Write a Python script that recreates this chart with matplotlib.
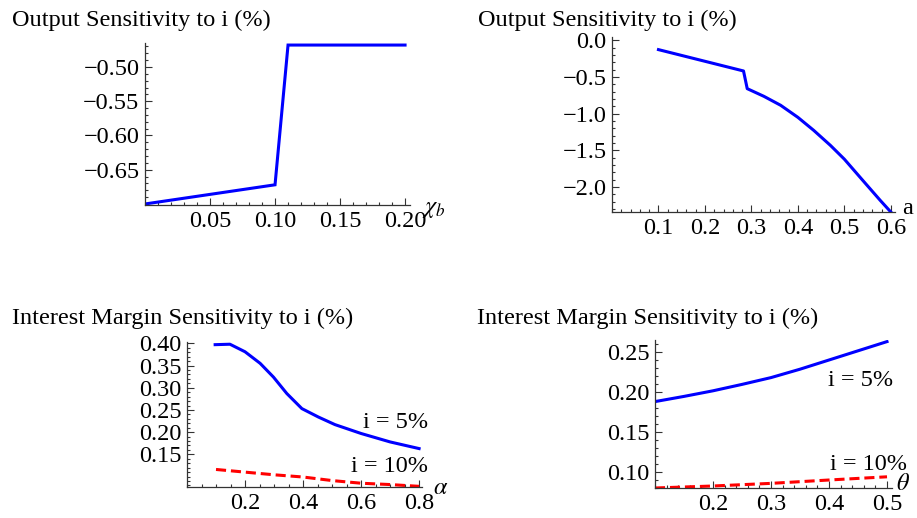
import matplotlib
matplotlib.use("Agg")
import matplotlib.pyplot as plt
from matplotlib.ticker import FixedLocator, MultipleLocator, FuncFormatter

plt.rcParams['font.family'] = ['Liberation Serif', 'DejaVu Serif']
plt.rcParams['mathtext.fontset'] = 'stix'
plt.rcParams['axes.unicode_minus'] = True

# ---- data ----
# Panel 1: output sensitivity vs chi_b
chi_b = [0.0, 0.10, 0.11, 0.20]
out_chi = [-0.700, -0.672, -0.468, -0.468]

# Panel 2: output sensitivity vs a
a_vals = [0.10, 0.20, 0.283, 0.291, 0.327, 0.363, 0.40, 0.434, 0.47, 0.50, 0.541, 0.577, 0.60]
out_a = [-0.127, -0.286, -0.418, -0.659, -0.764, -0.886, -1.05, -1.227, -1.432, -1.62, -1.919, -2.18, -2.34]

# Panel 3: interest margin sensitivity vs alpha
alpha = [0.097, 0.148, 0.20, 0.252, 0.298, 0.344, 0.396, 0.453, 0.51, 0.60, 0.70, 0.80]
im_alpha_5 = [0.397, 0.398, 0.381, 0.355, 0.324, 0.287, 0.253, 0.234, 0.217, 0.197, 0.178, 0.163]
alpha10 = [0.10, 0.20, 0.30, 0.40, 0.50, 0.60, 0.70, 0.80]
im_alpha_10 = [0.116, 0.110, 0.104, 0.099, 0.091, 0.085, 0.082, 0.078]

# Panel 4: interest margin sensitivity vs theta
theta = [0.10, 0.15, 0.20, 0.25, 0.30, 0.35, 0.40, 0.45, 0.50]
im_theta_5 = [0.188, 0.1945, 0.2015, 0.2095, 0.218, 0.2285, 0.240, 0.2515, 0.263]
theta10 = [0.10, 0.20, 0.30, 0.40, 0.50]
im_theta_10 = [0.080, 0.0825, 0.0858, 0.090, 0.094]

title_top = "Output Sensitivity to i (%)"
title_bot = "Interest Margin Sensitivity to i (%)"

W, H = 917, 518
fig = plt.figure(figsize=(W / 100, H / 100), dpi=100)
FS = 17.5


def axes_px(left, top, right, bottom):
    return fig.add_axes([left / W, 1 - bottom / H, (right - left) / W, (bottom - top) / H])


def ftext(x, y, s, **kw):
    fig.text(x / W, 1 - y / H, s, fontsize=FS, **kw)


def fmt(nd):
    return FuncFormatter(lambda v, p: ('%.*f' % (nd, v)).replace('-', '\u2212'))


def style(ax):
    for s in ('top', 'right'):
        ax.spines[s].set_visible(False)
    for s in ('left', 'bottom'):
        ax.spines[s].set_color('#333333')
        ax.spines[s].set_linewidth(0.9)
    ax.tick_params(which='both', direction='in', colors='#333333', labelcolor='black',
                   labelsize=FS, width=0.8)
    ax.tick_params(which='major', length=5, pad=4)
    ax.tick_params(which='minor', length=2.5)
    ax.patch.set_alpha(0)


BLUE = '#0000ff'
RED = '#ff0000'
LW = 2.2
DASH = (3.3, 1.6)

# Panel 1
ax1 = axes_px(145, 43, 410, 205)
ax1.plot(chi_b, out_chi, color=BLUE, lw=LW, solid_joinstyle='miter')
ax1.set_xlim(0, 0.2038)
ax1.set_ylim(-0.7015, -0.465)
ax1.xaxis.set_major_locator(FixedLocator([0.05, 0.10, 0.15, 0.20]))
ax1.xaxis.set_minor_locator(MultipleLocator(0.01))
ax1.yaxis.set_major_locator(FixedLocator([-0.50, -0.55, -0.60, -0.65]))
ax1.yaxis.set_minor_locator(MultipleLocator(0.01))
ax1.xaxis.set_major_formatter(fmt(2))
ax1.yaxis.set_major_formatter(fmt(2))
style(ax1)
ftext(12, 20, title_top, ha='left', va='center')
ftext(422, 209, r'$\chi_b$', ha='left', va='center')

# Panel 2
ax2 = axes_px(612, 37, 895, 212)
ax2.plot(a_vals, out_a, color=BLUE, lw=LW)
ax2.set_xlim(0, 0.609)
ax2.set_ylim(-2.34, 0.045)
ax2.xaxis.set_major_locator(FixedLocator([0.1, 0.2, 0.3, 0.4, 0.5, 0.6]))
ax2.xaxis.set_minor_locator(MultipleLocator(0.02))
ax2.yaxis.set_major_locator(FixedLocator([0.0, -0.5, -1.0, -1.5, -2.0]))
ax2.yaxis.set_minor_locator(MultipleLocator(0.1))
ax2.xaxis.set_major_formatter(fmt(1))
ax2.yaxis.set_major_formatter(fmt(1))
style(ax2)
ftext(478, 20, title_top, ha='left', va='center')
ftext(902, 208, 'a', ha='left', va='center')

# Panel 3
ax3 = axes_px(187, 342, 422, 487)
ax3.plot(alpha, im_alpha_5, color=BLUE, lw=LW)
ax3.plot(alpha10, im_alpha_10, color=RED, lw=LW, dashes=DASH)
ax3.set_xlim(0, 0.81)
ax3.set_ylim(0.0765, 0.403)
ax3.xaxis.set_major_locator(FixedLocator([0.2, 0.4, 0.6, 0.8]))
ax3.xaxis.set_minor_locator(MultipleLocator(0.05))
ax3.yaxis.set_major_locator(FixedLocator([0.15, 0.20, 0.25, 0.30, 0.35, 0.40]))
ax3.yaxis.set_minor_locator(MultipleLocator(0.01))
ax3.xaxis.set_major_formatter(fmt(1))
ax3.yaxis.set_major_formatter(fmt(2))
style(ax3)
ftext(12, 318, title_bot, ha='left', va='center')
ftext(433, 488, r'$\alpha$', ha='left', va='center')
ftext(428, 423, 'i = 5%', ha='right', va='center')
ftext(428, 467, 'i = 10%', ha='right', va='center')

# Panel 4
ax4 = axes_px(655, 340, 892, 488)
ax4.plot(theta, im_theta_5, color=BLUE, lw=LW)
ax4.plot(theta10, im_theta_10, color=RED, lw=LW, dashes=DASH)
ax4.set_xlim(0.1, 0.5086)
ax4.set_ylim(0.08, 0.265)
ax4.xaxis.set_major_locator(FixedLocator([0.2, 0.3, 0.4, 0.5]))
ax4.xaxis.set_minor_locator(MultipleLocator(0.02))
ax4.yaxis.set_major_locator(FixedLocator([0.10, 0.15, 0.20, 0.25]))
ax4.yaxis.set_minor_locator(MultipleLocator(0.01))
ax4.xaxis.set_major_formatter(fmt(1))
ax4.yaxis.set_major_formatter(fmt(2))
style(ax4)
ftext(477, 318, title_bot, ha='left', va='center')
ftext(896, 485, r'$\theta$', ha='left', va='center')
ftext(893, 380, 'i = 5%', ha='right', va='center')
ftext(907, 465, 'i = 10%', ha='right', va='center')

fig.savefig('out.png', dpi=100)
